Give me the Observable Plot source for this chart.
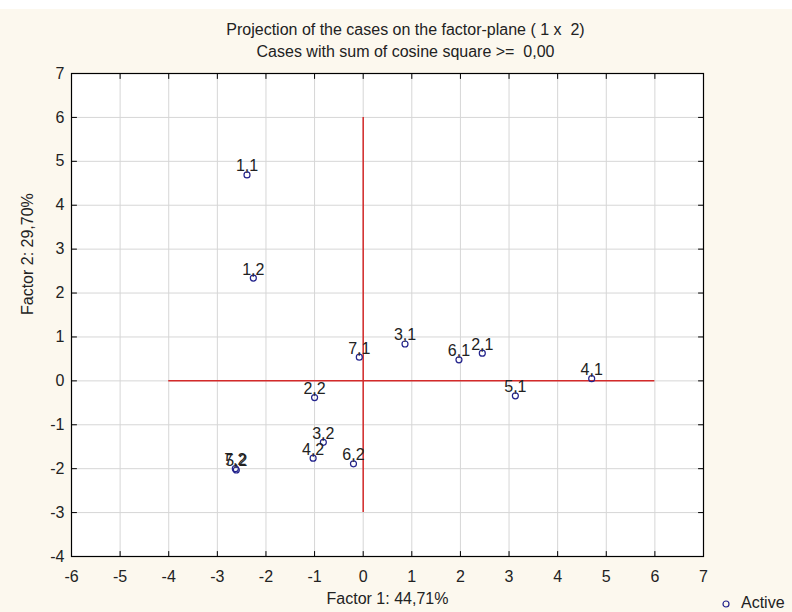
<!DOCTYPE html>
<html>
<head>
<meta charset="utf-8">
<script src="https://cdn.jsdelivr.net/npm/d3@7"></script>
<script src="https://cdn.jsdelivr.net/npm/@observablehq/plot@0.6"></script>
<style>
  html, body { margin: 0; padding: 0; background: #fcf8ee; }
  #chart { position: relative; width: 792px; height: 612px; overflow: hidden; background: #fcf8ee;
           font-family: "Liberation Sans", Arial, sans-serif; color: #222; }
  #strip { height: 9px; background: #ffffff; }
  #title { padding: 9.5px 0 1.5px 19px; font-size: 16px; line-height: 22px; text-align: center; white-space: pre; }
  #legend { position: absolute; left: 721px; top: 593px; font-size: 16px; line-height: 20px; white-space: nowrap; }
  #legend svg { vertical-align: middle; margin-right: 10px; }
</style>
</head>
<body>
<div id="chart">
  <div id="strip"></div>
  <div id="title"><div>Projection of the cases on the factor-plane ( 1 x  2)</div><div>Cases with sum of cosine square &gt;=  0,00</div></div>
  <div id="plot"></div>
  <div id="legend"><svg width="10" height="10"><circle cx="5" cy="5" r="3" fill="none" stroke="#23238c" stroke-width="1.2"></circle></svg>Active</div>
</div>
<script>
// Case labels and coordinates on factor 1 and factor 2
const caseLabels = ["1,1","1,2","2,1","2,2","3,1","3,2","4,1","4,2","5,1","5,2","6,1","6,2","7,1","7,2"];
const factor1    = [-2.39, -2.26, 2.45, -1.00, 0.86, -0.82, 4.70, -1.03, 3.13, -2.61, 1.97, -0.20, -0.08, -2.63];
const factor2    = [ 4.69,  2.34, 0.63, -0.38, 0.84, -1.40, 0.05, -1.76, -0.34, -2.03, 0.48, -1.89, 0.54, -2.00];

// Axis ticks
const xTicks = [-6,-5,-4,-3,-2,-1,0,1,2,3,4,5,6,7];
const yTicks = [-4,-3,-2,-1,0,1,2,3,4,5,6,7];

// Red reference axes through the origin
const hAxis = [{x1: -4, x2: 6, y: 0}];
const vAxis = [{y1: -3, y2: 6, x: 0}];

const xLabel = "Factor 1: 44,71%";
const yLabel = "Factor 2: 29,70%";

const cases = caseLabels.map((t, i) => ({label: t, f1: factor1[i], f2: factor2[i]}));
const casesTopFirst = cases.slice().reverse();

const tickShape = {draw(ctx, l) { ctx.moveTo(0, 0); ctx.lineTo(0, -l); }};
const inTicks = (data, opts) => Plot.vector(data, {length: 5, anchor: "start", shape: tickShape, stroke: "#000", strokeWidth: 1, ...opts});

const chart = Plot.plot({
  width: 792,
  height: 548,
  marginTop: 9,
  marginBottom: 56,
  marginLeft: 71,
  marginRight: 89,
  style: {background: "transparent", fontFamily: "'Liberation Sans', Arial, sans-serif", fontSize: "16px", color: "#222"},
  x: {domain: [-6, 7]},
  y: {domain: [-4, 7]},
  marks: [
    Plot.frame({fill: "#ffffff", stroke: null}),
    Plot.ruleX(xTicks, {stroke: "#d6d6d6", strokeWidth: 1}),
    Plot.ruleY(yTicks, {stroke: "#d6d6d6", strokeWidth: 1}),
    Plot.ruleY(hAxis, {x1: "x1", x2: "x2", y: "y", stroke: "#d42a2a", strokeWidth: 1.5}),
    Plot.ruleX(vAxis, {y1: "y1", y2: "y2", x: "x", stroke: "#d42a2a", strokeWidth: 1.5}),
    Plot.frame({stroke: "#000", strokeWidth: 1.2}),
    inTicks(xTicks, {x: d => d, frameAnchor: "bottom", rotate: 0}),
    inTicks(xTicks, {x: d => d, frameAnchor: "top", rotate: 180}),
    inTicks(yTicks, {y: d => d, frameAnchor: "left", rotate: 90}),
    inTicks(yTicks, {y: d => d, frameAnchor: "right", rotate: -90}),
    Plot.axisX({ticks: xTicks, tickSize: 0, tickPadding: 14, label: null, tickFormat: d => String(d), fill: "#222"}),
    Plot.axisY({ticks: yTicks, tickSize: 0, tickPadding: 7, label: null, tickFormat: d => String(d), fill: "#222"}),
    Plot.text([xLabel], {text: d => d, frameAnchor: "bottom", dy: 47, fill: "#222"}),
    Plot.text([yLabel], {text: d => d, frameAnchor: "left", dx: -44, rotate: -90, fill: "#222"}),
    Plot.dot(cases, {x: "f1", y: "f2", r: 3, stroke: "#23238c", strokeWidth: 1.2, fill: "none"}),
    Plot.text(casesTopFirst, {x: "f1", y: "f2", text: "label", lineAnchor: "bottom", dy: -3.5, fill: "#222"})
  ]
});
document.getElementById("plot").appendChild(chart);
</script>
</body>
</html>
